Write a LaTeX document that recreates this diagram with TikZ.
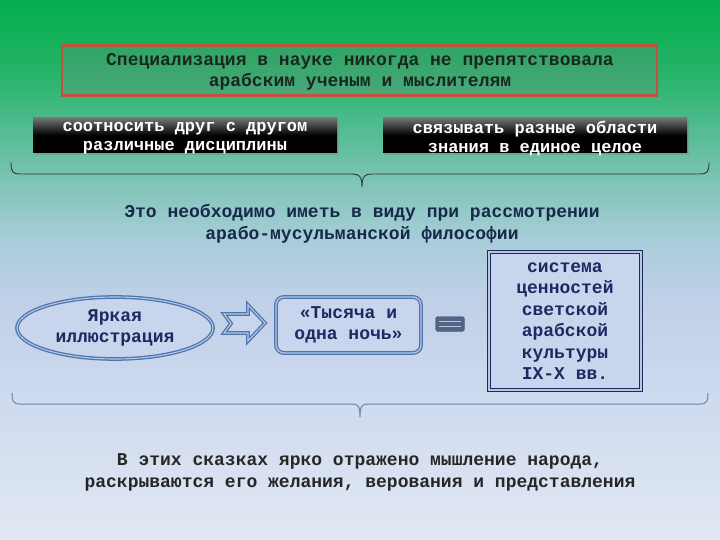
\documentclass[tikz,border=0pt]{standalone}
\usepackage{fontspec}
\setmainfont{Liberation Mono}
\usetikzlibrary{shadows,shapes.geometric}
\definecolor{bgA}{RGB}{5,175,80}
\definecolor{bgB}{RGB}{30,178,98}
\definecolor{bgC}{RGB}{75,186,138}
\definecolor{bgD}{RGB}{125,196,182}
\definecolor{bgE}{RGB}{168,205,218}
\definecolor{bgF}{RGB}{192,208,232}
\definecolor{bgG}{RGB}{206,218,238}
\definecolor{bgH}{RGB}{225,232,243}
\definecolor{redb}{RGB}{192,82,62}
\definecolor{toptext}{RGB}{25,40,30}
\definecolor{midtext}{RGB}{22,42,72}
\definecolor{bluel}{RGB}{75,118,178}
\definecolor{lightfill}{RGB}{200,213,236}
\definecolor{navy}{RGB}{28,42,98}
\definecolor{brace1}{RGB}{45,55,55}
\definecolor{brace2}{RGB}{110,130,170}
\definecolor{eqdark}{RGB}{80,100,132}
\definecolor{eqlight}{RGB}{185,198,220}
\pgfdeclareverticalshading{bgshade}{100bp}{color(0bp)=(bgH); color(25bp)=(bgH); color(38bp)=(bgG); color(47.2bp)=(bgF); color(52.8bp)=(bgE); color(58.3bp)=(bgD); color(63.9bp)=(bgC); color(69.4bp)=(bgB); color(75bp)=(bgA); color(100bp)=(bgA)}
\tikzset{
  big/.style={font=\fontsize{18}{21.5}\selectfont\bfseries, align=center},
  blackbox/.style={minimum width=304, minimum height=35, inner sep=0pt,
    top color=black!55, bottom color=black, middle color=black,
    drop shadow={shadow xshift=2pt, shadow yshift=-2pt, opacity=0.35}},
  blacktext/.style={font=\fontsize{17}{19}\selectfont\bfseries, align=center, text=white, inner sep=0pt},
  bluedouble/.style={draw=bluel, line width=1.3pt, double=eqlight, double distance=1.1pt},
}
\begin{document}
\begin{tikzpicture}[x=1pt,y=-1pt]
\useasboundingbox (0,0) rectangle (720,540);
\shade[shading=bgshade] (0,0) rectangle (720,540);

% top red box
\node[draw=redb, line width=2.5pt, minimum width=595, minimum height=50,
  drop shadow={shadow xshift=1.5pt, shadow yshift=-1.5pt, opacity=0.25}] (top) at (359.5,70.5) {};
\node[big, text=toptext] (toptxt) at (360,72)
  {Специализация в науке никогда не препятствовала\\арабским ученым и мыслителям};

% black boxes
\node[blackbox] (bl) at (185,135.5) {};
\node[blacktext] (blt) at (185,138) {соотносить друг с другом\\различные дисциплины};
\node[blackbox] (br) at (535,135.5) {};
\node[blacktext] (brt) at (535,138) {связывать разные области\\знания в единое целое};

% brace 1
\draw[brace1, line width=0.9pt] (11,162) .. controls (11,171) and (12,174) .. (20,174) -- (352,174)
  .. controls (359,174) and (362,176) .. (362,187)
  .. controls (362,176) and (365,174) .. (372,174) -- (700,174)
  .. controls (708,174) and (709,171) .. (709,162);

% middle text
\node[big, text=midtext] (mid) at (362,224)
  {Это необходимо иметь в виду при рассмотрении\\арабо-мусульманской философии};

% ellipse
\node[big, ellipse, bluedouble, fill=lightfill, minimum width=196, minimum height=62, inner sep=0pt, text=navy] (ell) at (115,328)
  {Яркая\\иллюстрация};

% notched arrow
\filldraw[bluedouble, fill=lightfill] (224,314) -- (248,314) -- (248,305) -- (265,323) -- (248,341) -- (248,333) -- (224,333) -- (231,323.5) -- cycle;

% rounded box
\node[big, draw=bluel, line width=1.3pt, double=eqlight, double distance=1.3pt, rounded corners=8pt, fill=lightfill,
  minimum width=145, minimum height=56, inner sep=0pt, text=navy] (ton) at (348.5,325)
  {«Тысяча и\\одна ночь»};

% equals
\node[draw=eqdark, fill=eqdark, rounded corners=2.5pt, minimum width=29, minimum height=15, inner sep=0pt] (eq) at (450,324) {};
\draw[eqlight, line width=1.6pt] ([xshift=4pt,yshift=2.6pt]eq.west) -- ([xshift=-4pt,yshift=2.6pt]eq.east);
\draw[eqlight, line width=1.6pt] ([xshift=4pt,yshift=-2.6pt]eq.west) -- ([xshift=-4pt,yshift=-2.6pt]eq.east);

% right box
\node[big, draw=navy, line width=0.9pt, double=eqlight, double distance=1.3pt, fill=lightfill,
  minimum width=152, minimum height=138, inner sep=0pt, text=navy] (sys) at (565,321)
  {система\\ценностей\\светской\\арабской\\культуры\\IX-X вв.};

% brace 2
\draw[brace2, line width=1pt] (12,393) .. controls (12,401) and (13,404) .. (20,404) -- (352,404)
  .. controls (358,404) and (360,406) .. (360,417)
  .. controls (360,406) and (362,404) .. (368,404) -- (700,404)
  .. controls (707,404) and (708,401) .. (708,393);

% bottom text
\node[big, text=black!85] (bot) at (360,472.5)
  {В этих сказках ярко отражено мышление народа,\\раскрываются его желания, верования и представления};
\end{tikzpicture}
\end{document}
